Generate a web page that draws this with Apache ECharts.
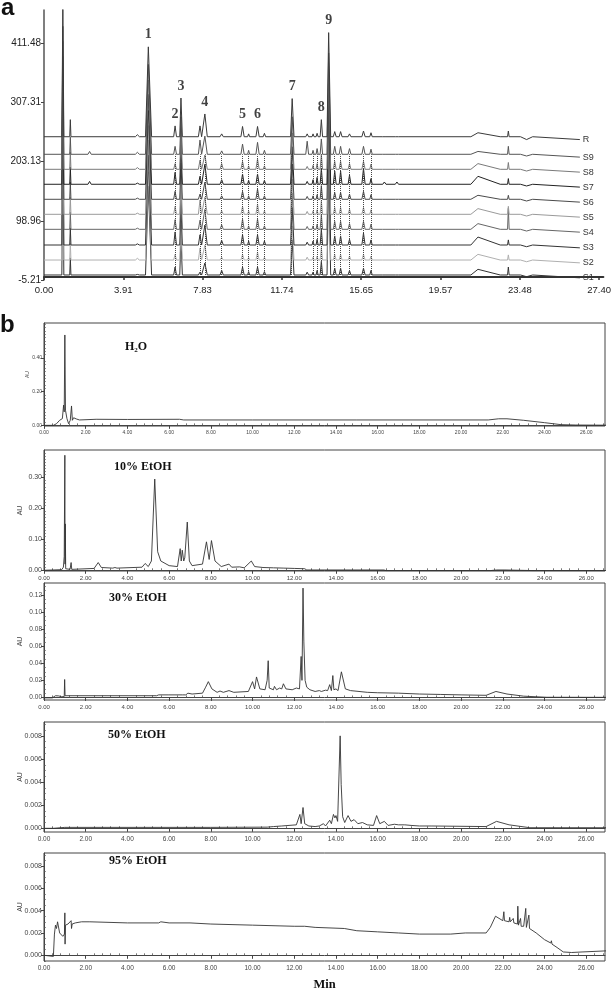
<!DOCTYPE html>
<html><head><meta charset="utf-8">
<script src="https://cdn.jsdelivr.net/npm/echarts@6/dist/echarts.min.js"></script>
<style>html,body{margin:0;padding:0;background:#fff}#c{width:614px;height:992px}</style>
</head><body><div id="c"></div><script>
// ---------- Panel a data ----------
const aTraceNames = ['R','S9','S8','S7','S6','S5','S4','S3','S2','S1'];
const aBaselines  = [246.7, 215.8, 189.4, 163.1, 136.7, 110.3, 83.9, 56.3, 29.9, 3.6];
const aTailShift  = -5;
const aTraceEnd   = 26.45;
const aPeakTimes  = [0.93,1.30,2.25,4.61,5.15,6.47,6.76,7.70,7.94,8.77,9.80,10.10,10.54,10.88,12.25,12.99,13.28,13.48,13.69,14.05,14.35,14.64,15.08,15.77,16.14,16.80,17.42,21.42,22.92,23.82];
const aPeakLW     = [0.05,0.03,0.08,0.10,0.14,0.07,0.06,0.08,0.10,0.08,0.08,0.05,0.08,0.06,0.08,0.07,0.05,0.05,0.06,0.08,0.07,0.07,0.07,0.08,0.06,0.08,0.08,0.35,0.04,0.30];
const aPeakRW     = [0.05,0.03,0.08,0.10,0.16,0.07,0.07,0.08,0.12,0.08,0.08,0.05,0.08,0.06,0.09,0.07,0.05,0.05,0.06,0.10,0.07,0.07,0.07,0.08,0.06,0.08,0.08,1.10,0.04,0.30];
const aHeights = [
 [232,30,0,3.5,158,19,68,19,40,5,18,5,18,6,67,5,5,6,30,183,9,9,5,10,7,3.5,3.5,7,10,-5],
 [225,30,5,3.5,158,14,66,25,32,6,18,7,21,7,66,23,7,10,27,178,14,14,10,14,9,3.5,3.5,5,14,-3],
 [225,30,0,3,157,10,66,16,25,10,14,6,18,6,64,5,7,10,26,176,14,14,10,14,9,3,3,10,12,-3],
 [225,30,5,2,158,21,68,14,35,8,18,7,18,7,66,5,8,12,28,178,23,23,16,28,10,4,4,14,10,-3],
 [222,30,0,2,156,14,64,9,30,6,14,6,18,6,62,5,6,8,24,175,12,12,9,14,8,3,3,7,7,-3],
 [222,30,0,2,156,14,64,25,30,6,14,6,18,6,62,5,6,8,24,175,12,12,9,12,8,3,3,10,14,-3],
 [222,30,0,2,157,17,66,16,35,8,18,6,18,6,64,5,6,9,26,176,14,14,10,14,9,3,3,10,37,-3],
 [225,30,0,2,158,23,68,18,35,8,18,7,18,7,66,5,7,10,28,178,16,16,10,21,9,3,3,14,9,-3],
 [220,30,0,3,155,10,62,21,26,5,10,5,14,5,60,5,5,7,22,172,10,10,7,10,7,3,3,10,9,-3],
 [220,30,0,1,156,14,66,5,21,8,14,6,14,6,62,5,5,8,24,176,12,12,8,12,8,3,3,10,14,-3]
];
const aColors = ['#3a3a3a','#555555','#7a7a7a','#222222','#4a4a4a','#9a9a9a','#666666','#333333','#b0b0b0','#333333'];
const aDotTimes = [6.47,7.70,7.94,8.77,9.80,10.10,10.54,10.88,12.20,13.28,13.48,13.69,14.35,14.64,15.08,15.77,16.14];
const aDotRange = [3.6, 215.8];
const aPeakLabels = ['1','2','3','4','5','6','7','8','9'];
const aPeakLabelIdx = [4,5,6,8,10,12,14,18,19];
const aXTickVals = [0,3.9143,7.8286,11.7429,15.6571,19.5714,23.4857,27.40];
const aXTickLabels = ['0.00','3.91','7.83','11.74','15.65','19.57','23.48','27.40'];
const aYTickVals = [-5.21,98.96,203.13,307.31,411.48];

// ---------- Panel b data ----------
const bTitles = ['H2O','10% EtOH','30% EtOH','50% EtOH','95% EtOH'];
const bXTickVals = [0,2,4,6,8,10,12,14,16,18,20,22,24,26];
const bYTickVals = [[0,0.2,0.4],[0,0.1,0.2,0.3],[0,0.02,0.04,0.06,0.08,0.10,0.12],[0,0.002,0.004,0.006,0.008],[0,0.002,0.004,0.006,0.008]];
const bYRange = [[-0.0038,0.607],[-0.0023,0.389],[-0.003,0.134],[-0.00032,0.0092],[-0.00051,0.00916]];
const h2oData = [[0,0],[0.45,0],[0.6,0.01],[0.75,0.03],[0.88,0.04],[0.94,0.12],[0.97,0.08],[1.0,0.536],[1.03,0.09],[1.1,0.04],[1.18,0.01],[1.26,0.03],[1.32,0.115],[1.36,0.03],[1.42,0.045],[1.47,0.055],[1.55,0.038],[1.7,0.032],[2.5,0.036],[4.0,0.035],[6.5,0.036],[6.7,0.032],[10,0.032],[15,0.032],[21.3,0.032],[21.8,0.039],[22.2,0.039],[23,0.03],[24,0.016],[24.8,0.004],[25.5,0.002],[27,0.001]];
const e10Data = [[0,0],[0.85,0.002],[0.93,0.01],[0.97,0.045],[1.0,0.372],[1.01,0.02],[1.02,0.15],[1.04,0.005],[1.25,0.003],[1.3,0.025],[1.33,0.003],[2.4,0.006],[2.6,0.025],[2.75,0.009],[3.3,0.007],[3.4,0.009],[3.5,0.007],[4.7,0.01],[4.85,0.022],[5.0,0.012],[5.15,0.03],[5.31,0.295],[5.45,0.06],[5.6,0.03],[6.0,0.015],[6.4,0.012],[6.53,0.07],[6.58,0.03],[6.63,0.065],[6.7,0.03],[6.75,0.04],[6.87,0.156],[6.97,0.03],[7.1,0.015],[7.6,0.02],[7.79,0.092],[7.92,0.035],[8.03,0.096],[8.2,0.03],[8.5,0.012],[8.87,0.02],[9.0,0.01],[9.38,0.011],[9.6,0.008],[9.94,0.03],[10.1,0.012],[10.5,0.009],[11.0,0.008],[11.5,0.007],[12.0,0.006],[12.5,0.005],[12.6,0.001],[16.3,0.001],[16.4,-0.001],[21.4,-0.001],[21.7,0.001],[22.1,0.001],[23.5,-0.001],[27,-0.001]];
const e30Data = [[0,-0.0005],[0.4,-0.0005],[0.55,0.002],[0.7,0.0018],[0.85,0.0008],[0.97,0.001],[0.99,0.021],[1.01,0.002],[1.1,0.002],[5.4,0.002],[5.5,0.003],[5.85,0.003],[5.9,0.0038],[5.95,0.003],[6.65,0.003],[6.72,0.004],[6.8,0.003],[6.9,0.005],[6.97,0.007],[7.1,0.004],[7.6,0.005],[7.75,0.012],[7.88,0.0185],[8.05,0.01],[8.3,0.006],[8.44,0.0075],[8.6,0.006],[8.87,0.008],[9.1,0.006],[9.8,0.007],[10.0,0.0185],[10.1,0.01],[10.19,0.024],[10.35,0.01],[10.6,0.009],[10.7,0.02],[10.75,0.043],[10.8,0.011],[11.0,0.009],[11.05,0.013],[11.15,0.009],[11.3,0.011],[11.4,0.01],[11.48,0.016],[11.6,0.01],[11.9,0.009],[12.1,0.011],[12.25,0.01],[12.33,0.048],[12.37,0.02],[12.42,0.128],[12.46,0.065],[12.52,0.02],[12.6,0.012],[12.75,0.009],[13.0,0.007],[13.2,0.008],[13.3,0.007],[13.5,0.0085],[13.6,0.008],[13.7,0.015],[13.78,0.008],[13.85,0.0256],[13.9,0.009],[14.0,0.01],[14.1,0.008],[14.26,0.030],[14.45,0.01],[14.7,0.008],[15.5,0.006],[16,0.0055],[17,0.005],[18,0.004],[19,0.0035],[20,0.003],[21.2,0.0025],[21.67,0.007],[22.2,0.004],[23,0.0015],[24.1,0.0002],[27,0.0001]];
const e50Data = [[0,0],[0.45,0],[0.5,0.00005],[1,0.00008],[8,0.00008],[10.7,0.0001],[11.0,0.00015],[11.4,0.0002],[12.1,0.0003],[12.27,0.0012],[12.33,0.0004],[12.42,0.0018],[12.5,0.0004],[12.7,0.0002],[13.0,0.00015],[13.2,0.0002],[13.4,0.0004],[13.5,0.0002],[13.7,0.0007],[13.78,0.0004],[13.88,0.0012],[13.95,0.0009],[14.0,0.0011],[14.08,0.0006],[14.2,0.008],[14.25,0.0038],[14.32,0.001],[14.42,0.0005],[14.58,0.0011],[14.72,0.0006],[14.87,0.00075],[15.05,0.0004],[15.27,0.0005],[15.5,0.0003],[15.8,0.00025],[15.95,0.0011],[16.1,0.0004],[16.32,0.0006],[16.5,0.00025],[16.8,0.00035],[17.0,0.0003],[17.3,0.0003],[17.6,0.00025],[18.0,0.0002],[18.6,0.0002],[21.2,0.00015],[21.7,0.0006],[22.3,0.0003],[23.3,0.00005],[27,0.00005]];
const e95Data = [[0,0],[0.45,-0.0001],[0.5,0.0019],[0.55,0.0027],[0.6,0.0024],[0.65,0.003],[0.75,0.002],[0.9,0.0017],[0.98,0.0019],[1.0,0.0038],[1.01,0.001],[1.03,0.0027],[1.15,0.0028],[1.3,0.0031],[1.32,0.0024],[1.35,0.0028],[1.5,0.0029],[1.8,0.003],[2.2,0.003],[4.0,0.0029],[5.5,0.0029],[5.6,0.003],[6.0,0.0029],[7.0,0.0029],[8.0,0.0028],[10.0,0.0027],[12.0,0.0026],[12.5,0.0026],[13.0,0.0025],[14.4,0.0024],[15.0,0.0022],[16.0,0.0021],[17.0,0.002],[18.0,0.0019],[19.5,0.0019],[20.2,0.002],[21.2,0.002],[21.4,0.0025],[21.65,0.0035],[22.0,0.0031],[22.05,0.0039],[22.08,0.0031],[22.3,0.003],[22.33,0.0034],[22.36,0.003],[22.5,0.0033],[22.53,0.0029],[22.7,0.0028],[22.72,0.0044],[22.75,0.0027],[22.85,0.0033],[22.88,0.0026],[23.0,0.0026],[23.1,0.0042],[23.13,0.0025],[23.25,0.0036],[23.28,0.0024],[23.6,0.002],[24.0,0.0014],[24.3,0.0011],[24.33,0.0013],[24.36,0.001],[24.6,0.0007],[24.9,0.0003],[25.3,0.00025],[25.8,0.0003],[25.85,0.00035],[27,0.0004]];
const bData = [h2oData, e10Data, e30Data, e50Data, e95Data];

// ---------- layout / style ----------
const SANS = 'Liberation Sans, Arial, sans-serif';
const SERIF = 'Liberation Serif, Times New Roman, serif';
const bTop = [323, 450, 583, 722, 853];
const bBot = [426, 571, 700, 832, 965];
const bYDec = [2,2,2,3,3];
const bYMinorStep = [0.02, 0.01, 0.005, 0.0005, 0.0005];
const bYFont = [5, 7, 6.5, 7, 7];
const bXFont = [5, 6, 6, 6.5, 6.5];
const bTitleLeft = [125, 114, 109, 108, 109];
const bTitleCY = [347, 467, 598, 735, 861];
const bNameGap = [14, 20, 20, 20, 20];
const bNameFont = [5, 7, 7, 7, 7];

const grids = [], xAxes = [], yAxes = [], series = [], titles = [];

// Panel a
grids.push({left:44, top:10, width:563, height:270});
xAxes.push({type:'value', gridIndex:0, min:0, max:27.61,
  axisLine:{show:true, lineStyle:{color:'#333', width:2}},
  axisTick:{show:true, customValues:aXTickVals, length:3, lineStyle:{color:'#333', width:1.5}},
  axisLabel:{customValues:aXTickVals, fontSize:9.5, color:'#222', margin:5, fontFamily:SANS,
    formatter:v=>{const i=aXTickVals.findIndex(t=>Math.abs(t-v)<1e-3);return i>=0?aXTickLabels[i]:'';}},
  splitLine:{show:false}});
yAxes.push({type:'value', gridIndex:0, min:-5.21, max:469.5,
  axisLine:{show:true, lineStyle:{color:'#555', width:1.5}},
  axisTick:{show:true, customValues:aYTickVals, length:3, lineStyle:{color:'#444', width:1}},
  axisLabel:{customValues:aYTickVals, fontSize:10, color:'#222', margin:3, fontFamily:SANS, formatter:v=>v.toFixed(2)},
  splitLine:{show:false}});

function buildTrace(k){
  const base=aBaselines[k], hs=aHeights[k], pts=[[0,base]];
  for(let i=0;i<aPeakTimes.length;i++){
    const h=hs[i]; if(!h) continue;
    const t=aPeakTimes[i];
    pts.push([t-aPeakLW[i],base],[t,base+h],[t+aPeakRW[i],base]);
  }
  pts.push([aTraceEnd, base+aTailShift]);
  return pts;
}
for(let k=aTraceNames.length-1;k>=0;k--){
  const s={type:'line', name:aTraceNames[k], xAxisIndex:0, yAxisIndex:0, data:buildTrace(k),
    showSymbol:false, symbol:'none', lineStyle:{color:aColors[k], width:1}, z:3,
    endLabel:{show:true, formatter:aTraceNames[k], distance:3, color:'#333', fontSize:9, fontFamily:SANS}};
  if(k===aTraceNames.length-1){
    s.markLine={symbol:'none', silent:true, animation:false, label:{show:false},
      lineStyle:{type:'dotted', color:'#444', width:1},
      data:aDotTimes.map(t=>[{coord:[t,aDotRange[0]]},{coord:[t,aDotRange[1]]}])};
  }
  series.push(s);
}
series.push({type:'scatter', xAxisIndex:0, yAxisIndex:0, symbolSize:0, z:5,
  data:aPeakLabels.map((n,j)=>({name:n, value:[aPeakTimes[aPeakLabelIdx[j]], aBaselines[0]+aHeights[0][aPeakLabelIdx[j]]]})),
  label:{show:true, position:'top', distance:5, formatter:'{b}', fontFamily:SERIF, fontWeight:'bold', fontSize:14, color:'#111'}});

// Panel b
for(let i=0;i<5;i++){
  const gi=i+1;
  grids.push({left:44, top:bTop[i], width:561, height:bBot[i]-bTop[i], show:true, borderColor:'#444', borderWidth:1, backgroundColor:'transparent'});
  const xMinor=[]; for(let v=0.4; v<26.9; v+=0.4){ if(Math.abs(v/2-Math.round(v/2))>0.01) xMinor.push(+v.toFixed(2)); }
  xAxes.push({type:'value', gridIndex:gi, min:0, max:26.9,
    axisLine:{show:true, lineStyle:{color:'#444', width:1}},
    axisTick:{show:true, customValues:bXTickVals, length:3.5, lineStyle:{color:'#444', width:1}},
    axisLabel:{customValues:bXTickVals, fontSize:bXFont[i], color:'#444', margin:4, fontFamily:SANS, formatter:v=>v.toFixed(2)},
    splitLine:{show:false},
    name: i===4?'Min':'', nameLocation:'middle', nameGap:17, nameMoveOverlap:false,
    nameTextStyle:{fontFamily:SERIF, fontWeight:'bold', fontSize:12.5, color:'#111'}});
  xAxes.push({type:'value', gridIndex:gi, min:0, max:26.9, axisLine:{show:false},
    axisTick:{show:true, customValues:xMinor, length:2, lineStyle:{color:'#555', width:0.8}},
    axisLabel:{show:false}, splitLine:{show:false}});
  const [ymin,ymax]=bYRange[i], st=bYMinorStep[i];
  const yMinor=[]; for(let v=Math.ceil(ymin/st)*st; v<ymax; v+=st){ const r=+v.toFixed(6); if(!bYTickVals[i].some(t=>Math.abs(t-r)<st/10)) yMinor.push(r); }
  yAxes.push({type:'value', gridIndex:gi, min:ymin, max:ymax,
    axisLine:{show:true, lineStyle:{color:'#444', width:1}},
    axisTick:{show:true, customValues:bYTickVals[i], length:3, lineStyle:{color:'#444', width:1}},
    axisLabel:{customValues:bYTickVals[i], fontSize:bYFont[i], color:'#444', margin:2, fontFamily:SANS, formatter:v=>v.toFixed(bYDec[i])},
    splitLine:{show:false},
    name:'AU', nameLocation:'middle', nameGap:bNameGap[i], nameRotate:90, nameMoveOverlap:false,
    nameTextStyle:{fontSize:bNameFont[i], color:'#444', fontFamily:SANS}});
  yAxes.push({type:'value', gridIndex:gi, min:ymin, max:ymax, axisLine:{show:false},
    axisTick:{show:true, customValues:yMinor, length:1.8, lineStyle:{color:'#555', width:0.8}},
    axisLabel:{show:false}, splitLine:{show:false}});
  series.push({type:'line', xAxisIndex:2*i+1, yAxisIndex:2*i+1, data:bData[i], showSymbol:false, symbol:'none',
    lineStyle:{color:'#333', width:0.9}});
  const rich={n:{fontFamily:SERIF, fontWeight:'bold', fontSize:12, color:'#111', lineHeight:14},
              s:{fontFamily:SERIF, fontWeight:'bold', fontSize:7, color:'#111', lineHeight:7, verticalAlign:'bottom'}};
  const txt = i===0 ? '{n|H}{s|2}{n|O}' : '{n|'+bTitles[i]+'}';
  titles.push({text:txt, left:bTitleLeft[i], top:bTitleCY[i]-7, padding:0, textStyle:{rich:rich, fontSize:12, lineHeight:14}});
}

const option = {
  animation:false, backgroundColor:'#fff',
  title:titles, grid:grids, xAxis:xAxes, yAxis:yAxes, series:series,
  graphic:[
    {type:'text', left:1, top:-4, style:{text:'a', font:'bold 24px Liberation Sans, Arial, sans-serif', fill:'#111'}},
    {type:'text', left:0, top:313, style:{text:'b', font:'bold 24px Liberation Sans, Arial, sans-serif', fill:'#111'}}
  ]
};
const chart = echarts.init(document.getElementById('c'), null, {renderer:'canvas', width:614, height:992});
chart.setOption(option);
</script></body></html>
